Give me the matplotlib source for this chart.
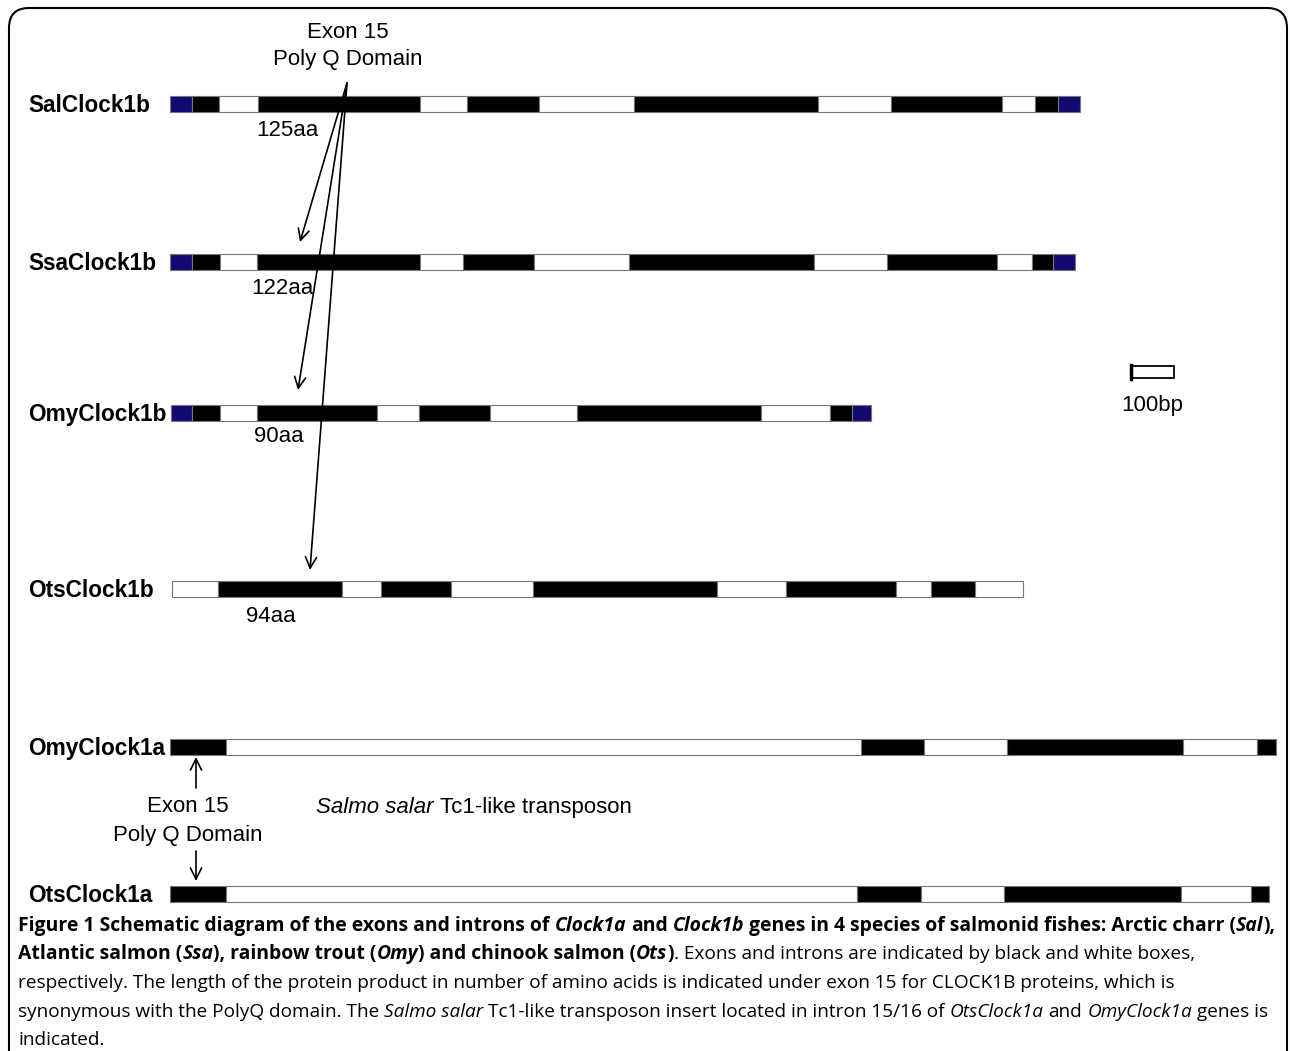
import matplotlib
matplotlib.use('Agg')
import matplotlib.pyplot as plt
from matplotlib.patches import Rectangle, FancyBboxPatch

# gene structures: (kind, length), kind: u = UTR (blue), e = exon, i = intron
genes = ['SalClock1b', 'SsaClock1b', 'OmyClock1b', 'OtsClock1b', 'OmyClock1a', 'OtsClock1a']
starts = [170, 170, 171, 172, 170, 170]
rows = [96, 254, 405, 581, 739, 886]
segments = [
    [('u', 22), ('e', 27), ('i', 39), ('e', 162), ('i', 47), ('e', 72), ('i', 95),
     ('e', 184), ('i', 73), ('e', 111), ('i', 33), ('e', 23), ('u', 22)],
    [('u', 22), ('e', 28), ('i', 37), ('e', 163), ('i', 43), ('e', 71), ('i', 95),
     ('e', 185), ('i', 73), ('e', 110), ('i', 35), ('e', 21), ('u', 22)],
    [('u', 21), ('e', 28), ('i', 37), ('e', 120), ('i', 42), ('e', 71), ('i', 87),
     ('e', 184), ('i', 69), ('e', 22), ('u', 19)],
    [('i', 46), ('e', 124), ('i', 39), ('e', 70), ('i', 82), ('e', 184), ('i', 69),
     ('e', 110), ('i', 35), ('e', 44), ('i', 48)],
    [('e', 56), ('i', 635), ('e', 63), ('i', 83), ('e', 176), ('i', 74), ('e', 19)],
    [('e', 56), ('i', 631), ('e', 64), ('i', 83), ('e', 177), ('i', 70), ('e', 18)],
]
polyq_labels = ['125aa', '122aa', '90aa', '94aa']
polyq_pos = [(287, 131), (282, 289), (279, 437), (271, 616)]
scale_len = 43   # = 100bp
bar_h = 16

colors = {'u': '#120a70', 'e': 'black', 'i': 'white'}

fig = plt.figure(figsize=(12.9, 10.51), dpi=100)
ax = fig.add_axes([0, 0, 1, 1])
ax.set_xlim(0, 1290)
ax.set_ylim(1051, 0)
ax.axis('off')
r = fig.canvas.get_renderer()

ax.add_patch(FancyBboxPatch((9, 8), 1278, 1120, boxstyle='round,pad=0,rounding_size=20',
                            fc='none', ec='black', lw=1.5))

SANS = 'Liberation Sans'

for name, x0, y0, segs in zip(genes, starts, rows, segments):
    x = x0
    for kind, L in segs:
        ax.add_patch(Rectangle((x, y0), L, bar_h, fc=colors[kind], ec='#777777', lw=0.8))
        x += L
    ax.text(28, y0 + bar_h / 2 + 1.5, name, fontsize=16.3, fontweight='bold', family=SANS,
            va='center', ha='left')

for lab, (x, y) in zip(polyq_labels, polyq_pos):
    ax.text(x, y, lab, fontsize=16, family=SANS, ha='center', va='center')

ax.text(348, 32, 'Exon 15', fontsize=16, family=SANS, ha='center', va='center')
ax.text(348, 59, 'Poly Q Domain', fontsize=16, family=SANS, ha='center', va='center')

arrow_kw = dict(arrowstyle='->', lw=1.2, color='black', shrinkA=0, shrinkB=0, mutation_scale=20)
for end in [(300, 242), (298, 390), (310, 570)]:
    ax.annotate('', xy=end, xytext=(347, 83), arrowprops=arrow_kw)

ax.annotate('', xy=(196, 757), xytext=(196, 788), arrowprops=arrow_kw)
ax.annotate('', xy=(196, 881), xytext=(196, 851), arrowprops=arrow_kw)
ax.text(188, 806, 'Exon 15', fontsize=16, family=SANS, ha='center', va='center')
ax.text(188, 835, 'Poly Q Domain', fontsize=16, family=SANS, ha='center', va='center')

# scale bar
ax.add_patch(Rectangle((1131, 366), scale_len, 12, fc='white', ec='black', lw=1.3))
ax.plot([1131, 1131], [365, 379], color='black', lw=2.5)
ax.text(1131 + scale_len / 2, 405, '100bp', fontsize=16, family=SANS, ha='center', va='center')


def adv(s, **kw):
    t1 = ax.text(0, 0, 'x' + s + 'x', **kw)
    t2 = ax.text(0, 0, 'xx', **kw)
    w = t1.get_window_extent(r).width - t2.get_window_extent(r).width
    t1.remove()
    t2.remove()
    return w


def runs(x, y, parts, sizes, family, draw=True):
    for s, weight, style in parts:
        kw = dict(fontsize=sizes[weight], family=family, fontweight=weight, fontstyle=style)
        lead = len(s) - len(s.lstrip(' '))
        core = s.strip(' ')
        if draw and core:
            ax.text(x + (adv(' ' * lead, **kw) if lead else 0), y, core, va='baseline', ha='left', **kw)
        x += adv(s, **kw)
    return x


runs(316, 813, [('Salmo salar', 'normal', 'italic'), (' Tc1-like transposon', 'normal', 'normal')],
     {'normal': 16}, SANS)

B, N = 'bold', 'normal'
caption = [
    [('Figure 1 Schematic diagram of the exons and introns of ', B, N), ('Clock1a', B, 'italic'),
     (' and ', B, N), ('Clock1b', B, 'italic'),
     (' genes in 4 species of salmonid fishes: Arctic charr (', B, N), ('Sal', B, 'italic'), ('),', B, N)],
    [('Atlantic salmon (', B, N), ('Ssa', B, 'italic'), ('), rainbow trout (', B, N), ('Omy', B, 'italic'),
     (') and chinook salmon (', B, N), ('Ots', B, 'italic'), (')', B, N),
     ('. Exons and introns are indicated by black and white boxes,', N, N)],
    [('respectively. The length of the protein product in number of amino acids is indicated under exon 15 '
      'for CLOCK1B proteins, which is', N, N)],
    [('synonymous with the PolyQ domain. The ', N, N), ('Salmo salar', N, 'italic'),
     (' Tc1-like transposon insert located in intron 15/16 of ', N, N), ('OtsClock1a', N, 'italic'),
     (' and ', N, N), ('OmyClock1a', N, 'italic'), (' genes is', N, N)],
    [('indicated.', N, N)],
]
CAP = 'Open Sans'
base = {B: 12, N: 12}
sizes = {B: 12 * 1254 / runs(0, 0, caption[0], base, CAP, draw=False),
         N: 12 * 1156 / runs(0, 0, caption[2], base, CAP, draw=False)}
for parts, yb in zip(caption, [931, 959, 988, 1017, 1045]):
    runs(18, yb, parts, sizes, CAP)

fig.savefig('out.png', dpi=100)
